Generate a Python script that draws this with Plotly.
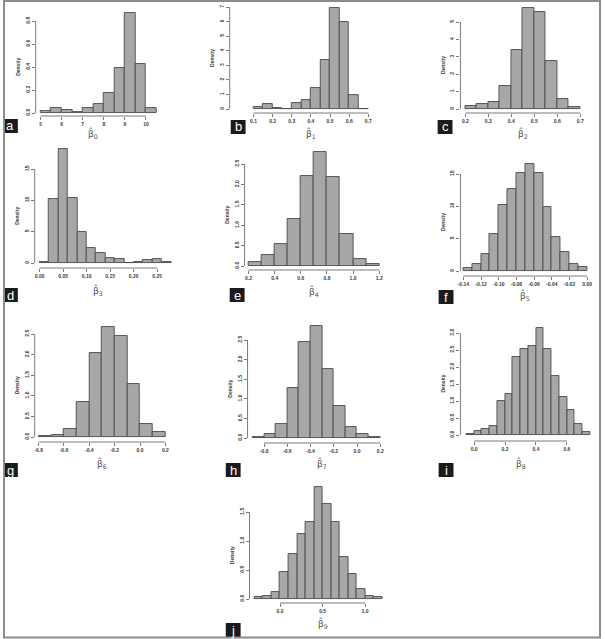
import plotly.graph_objects as go

# ---------------- data ----------------
a_start, a_width = 5.0, 0.5
a_density = [0.015, 0.04, 0.03, 0.01, 0.04, 0.075, 0.175, 0.395, 0.87, 0.43, 0.04]
a_xticks = [5, 6, 7, 8, 9, 10]
a_yticks = [0.0, 0.2, 0.4, 0.6, 0.8]

b_start, b_width = 0.1, 0.05
b_density = [0.16, 0.34, 0.09, 0.02, 0.39, 0.62, 1.42, 3.36, 6.93, 5.97, 0.96, 0.02]
b_xticks = [0.1, 0.2, 0.3, 0.4, 0.5, 0.6, 0.7]
b_yticks = [0, 1, 2, 3, 4, 5, 6, 7]

c_start, c_width = 0.2, 0.05
c_density = [0.15, 0.31, 0.40, 1.32, 3.39, 5.79, 5.56, 2.78, 0.57, 0.13]
c_xticks = [0.2, 0.3, 0.4, 0.5, 0.6, 0.7]
c_yticks = [0, 1, 2, 3, 4, 5]

d_start, d_width = 0.0, 0.02
d_density = [0.1, 10.2, 18.2, 10.4, 4.9, 2.4, 1.6, 0.8, 0.6, 0.0, 0.15, 0.45, 0.7, 0.1]
d_xticks = [0.00, 0.05, 0.10, 0.15, 0.20, 0.25]
d_yticks = [0, 5, 10, 15]

e_start, e_width = 0.2, 0.1
e_density = [0.10, 0.27, 0.54, 1.15, 2.20, 2.79, 2.18, 0.78, 0.17, 0.05]
e_xticks = [0.2, 0.4, 0.6, 0.8, 1.0, 1.2]
e_yticks = [0.0, 0.5, 1.0, 1.5, 2.0, 2.5]

f_start, f_width = -0.14, 0.01
f_density = [0.46, 1.08, 2.63, 5.72, 10.2, 12.67, 15.15, 16.54, 15.15, 9.89, 5.25, 2.94, 1.08, 0.62]
f_xticks = [-0.14, -0.12, -0.10, -0.08, -0.06, -0.04, -0.02, 0.00]
f_yticks = [0, 5, 10, 15]

g_start, g_width = -0.8, 0.1
g_density = [0.03, 0.06, 0.19, 0.85, 2.04, 2.67, 2.45, 1.29, 0.32, 0.12]
g_xticks = [-0.8, -0.6, -0.4, -0.2, 0.0, 0.2]
g_yticks = [0.0, 0.5, 1.0, 1.5, 2.0, 2.5]

h_start, h_width = -0.9, 0.1
h_density = [0.03, 0.10, 0.36, 1.28, 2.45, 2.86, 1.76, 0.82, 0.28, 0.10, 0.03]
h_xticks = [-0.8, -0.6, -0.4, -0.2, 0.0, 0.2]
h_yticks = [0.0, 0.5, 1.0, 1.5, 2.0, 2.5]

i_start, i_width = -0.05, 0.05
i_density = [0.03, 0.12, 0.18, 0.26, 1.00, 1.21, 2.29, 2.53, 2.62, 3.15, 2.53, 1.74, 1.12, 0.74, 0.32, 0.09]
i_xticks = [0.0, 0.2, 0.4, 0.6]
i_yticks = [0.0, 0.5, 1.0, 1.5, 2.0, 2.5, 3.0]

j_start, j_width = -0.3, 0.1
j_density = [0.03, 0.05, 0.12, 0.47, 0.78, 1.12, 1.33, 1.93, 1.64, 1.33, 0.72, 0.43, 0.17, 0.05, 0.03]
j_xticks = [0.0, 0.5, 1.0]
j_yticks = [0.0, 0.5, 1.0, 1.5]

panel_letters = ["a", "b", "c", "d", "e", "f", "g", "h", "i", "j"]
panel_subscripts = ["0", "1", "2", "3", "4", "5", "6", "7", "8", "9"]
x_formats = ["{:.0f}", "{:.1f}", "{:.1f}", "{:.2f}", "{:.1f}", "{:.2f}", "{:.1f}", "{:.1f}", "{:.1f}", "{:.1f}"]
y_formats = ["{:.1f}", "{:.0f}", "{:.0f}", "{:.0f}", "{:.1f}", "{:.0f}", "{:.1f}", "{:.1f}", "{:.1f}", "{:.1f}"]

data_table = {
    "a": (a_start, a_width, a_density, a_xticks, a_yticks),
    "b": (b_start, b_width, b_density, b_xticks, b_yticks),
    "c": (c_start, c_width, c_density, c_xticks, c_yticks),
    "d": (d_start, d_width, d_density, d_xticks, d_yticks),
    "e": (e_start, e_width, e_density, e_xticks, e_yticks),
    "f": (f_start, f_width, f_density, f_xticks, f_yticks),
    "g": (g_start, g_width, g_density, g_xticks, g_yticks),
    "h": (h_start, h_width, h_density, h_xticks, h_yticks),
    "i": (i_start, i_width, i_density, i_xticks, i_yticks),
    "j": (j_start, j_width, j_density, j_xticks, j_yticks),
}

# ---------------- layout geometry (pixels) ----------------
W, H = 605, 639
# ax_x, bar_left, bar_right, baseline, xline_y, toptick_y, top_y, title_y, box_x, box_y
geom = {
    "a": (33, 38, 155, 113, 116, 21, 10, 133, 0, 119),
    "b": (229, 253, 369, 109, 113, 7, 5, 133, 230, 120),
    "c": (462, 467, 583, 109, 113, 22, 6, 133, 439, 120),
    "d": (32, 37, 170, 263, 268, 169, 147, 290, 0, 288),
    "e": (244, 248, 380, 266, 270, 164, 150, 292, 229, 288),
    "f": (462, 465, 590, 271, 276, 174, 162, 295, 440, 290),
    "g": (32, 36, 164, 437, 442, 334, 325, 463, 0, 463),
    "h": (247, 252, 381, 438, 443, 340, 324, 463, 225, 463),
    "i": (462, 468, 593, 435, 441, 333, 326, 463, 440, 463),
    "j": (249, 254, 383, 599, 603, 512, 485, 623, 225, 623),
}

FILL = "#a7a7a7"
EDGE = "#4a4a4a"
AXIS = "#7a7a7a"
TXT = "#3a3a3a"
tickfont = dict(family="Liberation Sans, Arial, sans-serif", size=5, color=TXT, weight="bold")

fig = go.Figure()
shapes = []
annotations = []
layout_axes = {}

for n, letter in enumerate(panel_letters, start=1):
    start, width, dens, xt, yt = data_table[letter]
    ax_x, bl, br, base, xline, ttop, top, title_y, bx, by = geom[letter]
    xa = "x" if n == 1 else f"x{n}"
    ya = "y" if n == 1 else f"y{n}"
    xkey = "xaxis" if n == 1 else f"xaxis{n}"
    ykey = "yaxis" if n == 1 else f"yaxis{n}"

    centers = [start + width * (k + 0.5) for k in range(len(dens))]
    fig.add_trace(go.Bar(
        x=centers, y=dens, width=[width] * len(dens),
        xaxis=xa, yaxis=ya,
        marker=dict(color=FILL, line=dict(color=EDGE, width=0.9)),
        hoverinfo="x+y",
    ))

    end = start + width * len(dens)
    s = (br - bl) / (end - start)
    xr = [start - (bl - ax_x) / s, end + 2 / s]
    sy = (base - ttop) / yt[-1]
    yr = [-(xline - base) / sy, (base - top) / sy]

    layout_axes[xkey] = dict(
        domain=[ax_x / W, (br + 2) / W], range=xr, anchor=ya,
        tickvals=xt, ticktext=[x_formats[n - 1].format(v) for v in xt],
        ticks="outside", ticklen=3, tickwidth=1, tickcolor=AXIS,
        showline=False, showgrid=False, zeroline=False,
        tickfont=tickfont, fixedrange=True,
    )
    layout_axes[ykey] = dict(
        domain=[1 - xline / H, 1 - top / H], range=yr, anchor=xa,
        tickvals=yt, ticktext=[y_formats[n - 1].format(v) for v in yt],
        ticks="outside", ticklen=3, tickwidth=1, tickcolor=AXIS, tickangle=-90,
        showline=False, showgrid=False, zeroline=False,
        tickfont=tickfont, fixedrange=True,
    )

    # R-style axis lines spanning first..last tick
    shapes.append(dict(type="line", xref=f"{xa} domain", yref=ya,
                       x0=0, x1=0, y0=yt[0], y1=yt[-1],
                       line=dict(color=AXIS, width=1)))
    shapes.append(dict(type="line", xref=xa, yref=f"{ya} domain",
                       x0=xt[0], x1=xt[-1], y0=0, y1=0,
                       line=dict(color=AXIS, width=1)))

    # "Density" label
    annotations.append(dict(
        x=(ax_x - 18) / W, y=1 - ((base + ttop) / 2) / H, xref="paper", yref="paper",
        text="Density", showarrow=False, textangle=-90,
        font=dict(family="Liberation Sans, Arial, sans-serif", size=5, color=TXT, weight="bold"),
        xanchor="center", yanchor="middle",
    ))
    # x-axis title (beta hat with subscript)
    x_mid = bl + ((xt[0] + xt[-1]) / 2 - start) * s
    annotations.append(dict(
        x=x_mid / W, y=1 - title_y / H, xref="paper", yref="paper",
        text="β\u0302<sub>" + panel_subscripts[n - 1] + "</sub>",
        showarrow=False,
        font=dict(family="DejaVu Sans, sans-serif", size=9, color="#505050"),
        xanchor="center", yanchor="middle",
    ))
    # black letter box
    shapes.append(dict(type="rect", xref="paper", yref="paper",
                       x0=bx / W, x1=(bx + 15) / W, y0=1 - (by + 14) / H, y1=1 - by / H,
                       fillcolor="#1b1b1b", line=dict(width=0)))
    annotations.append(dict(
        x=(bx + 7.5) / W, y=1 - (by + 7) / H, xref="paper", yref="paper",
        text=letter, showarrow=False,
        font=dict(family="Liberation Sans, Arial, sans-serif", size=13, color="white"),
        xanchor="center", yanchor="middle",
    ))

# outer frame
shapes.append(dict(type="rect", xref="paper", yref="paper",
                   x0=1 / W, x1=603 / W, y0=1 - 637.5 / H, y1=1 - 1 / H,
                   line=dict(color="#8c8c8c", width=2), fillcolor="rgba(0,0,0,0)"))

fig.update_layout(
    width=W, height=H,
    margin=dict(l=0, r=0, t=0, b=0),
    paper_bgcolor="white", plot_bgcolor="white",
    showlegend=False, bargap=0,
    shapes=shapes, annotations=annotations,
    **layout_axes,
)

fig.write_html(
    "out.html",
    config={"displayModeBar": False},
    post_script="document.body.style.margin='0';document.body.style.overflow='hidden';",
)
